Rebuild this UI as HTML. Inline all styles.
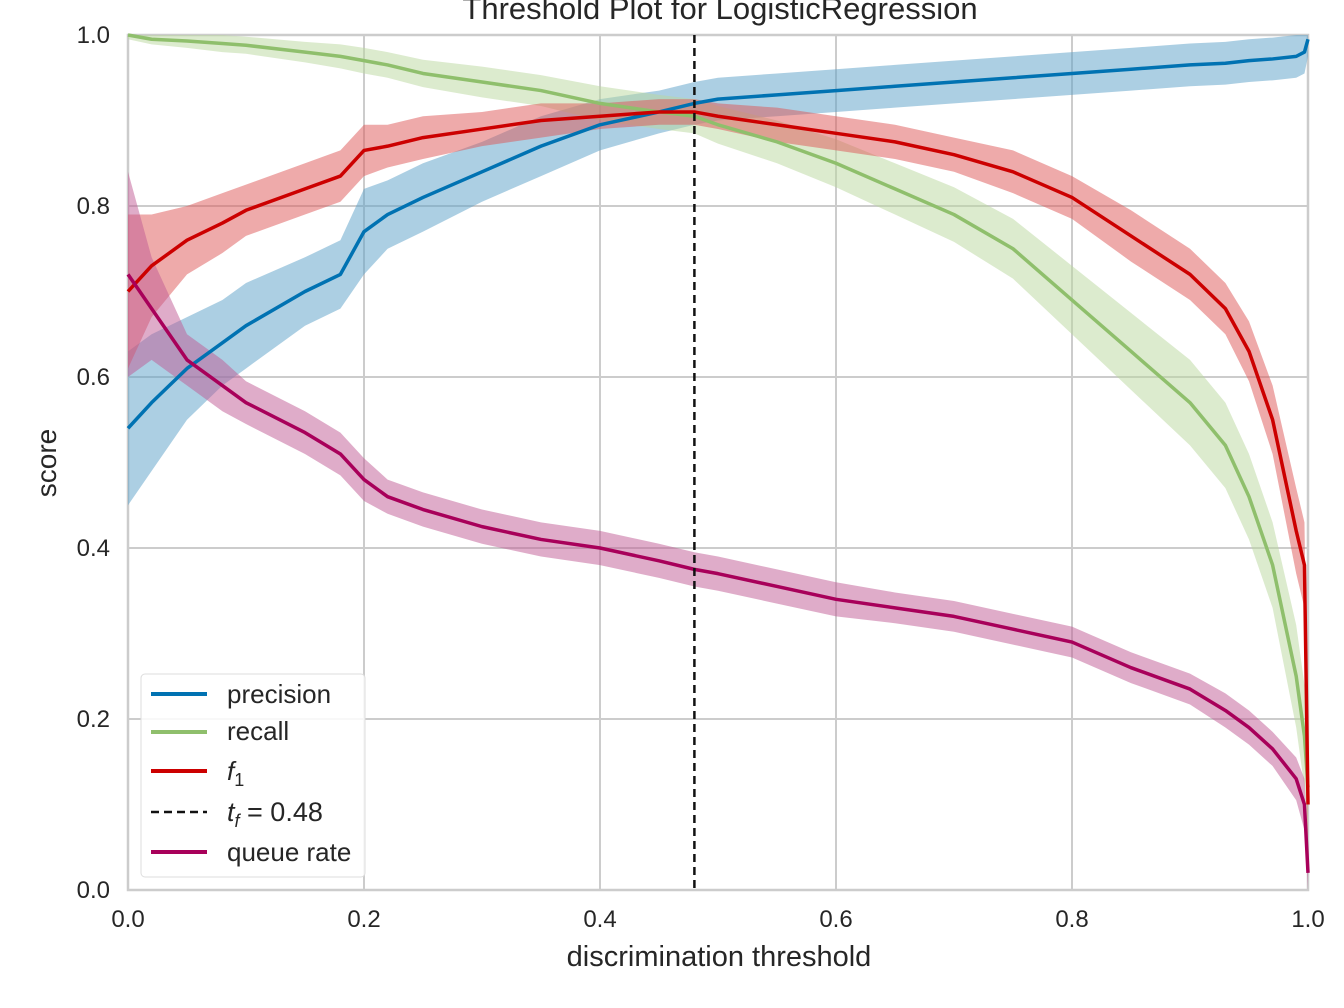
<!DOCTYPE html>
<html><head><meta charset="utf-8"><style>
html,body{margin:0;padding:0;background:#fff;}
svg{display:block;font-family:"Liberation Sans",sans-serif;}
</style></head><body>
<svg id="chart" width="1344" height="1008" viewBox="0 0 1344 1008">
<text x="720" y="19" font-size="31" text-anchor="middle" fill="#262626">Threshold Plot for LogisticRegression</text>
<g id="grid"></g>
<g id="bands"></g>
<g id="lines"></g>
<g id="axes"></g>
<text x="719" y="966" font-size="29" text-anchor="middle" fill="#262626">discrimination threshold</text>
<text transform="translate(56,463) rotate(-90)" font-size="28" text-anchor="middle" fill="#262626">score</text>
<g>
<rect x="141" y="674" width="224" height="203" rx="4" fill="#fff" fill-opacity="0.85" stroke="#ddd"/>
<line x1="151" y1="694" x2="207" y2="694" stroke="#0072B2" stroke-width="4"/>
<text x="227" y="703" font-size="26" fill="#262626">precision</text>
<line x1="151" y1="732" x2="207" y2="732" stroke="#8fbf6c" stroke-width="4"/>
<text x="227" y="740" font-size="26" fill="#262626">recall</text>
<line x1="151" y1="771" x2="207" y2="771" stroke="#cc0000" stroke-width="4"/>
<text x="227" y="780" font-size="26" font-style="italic" fill="#262626">f<tspan font-size="18" dy="6" font-style="normal">1</tspan></text>
<line x1="151" y1="812" x2="207" y2="812" stroke="#111" stroke-width="2.5" stroke-dasharray="8,5"/>
<text x="227" y="821" font-size="27" fill="#262626"><tspan font-style="italic">t</tspan><tspan font-size="18" dy="6" font-style="italic">f</tspan><tspan dy="-6"> = 0.48</tspan></text>
<line x1="151" y1="852" x2="207" y2="852" stroke="#a8005a" stroke-width="4"/>
<text x="227" y="861" font-size="26" fill="#262626">queue rate</text>
</g>
</svg>
<script>
const thresholds = [0,0.02,0.05,0.08,0.1,0.15,0.18,0.2,0.22,0.25,0.3,0.35,0.4,0.45,0.48,0.5,0.55,0.6,0.65,0.7,0.75,0.8,0.85,0.9,0.93,0.95,0.97,0.99,0.997,1.0];
const precision = [0.54,0.57,0.61,0.64,0.66,0.70,0.72,0.77,0.79,0.81,0.84,0.87,0.895,0.91,0.92,0.925,0.93,0.935,0.94,0.945,0.95,0.955,0.96,0.965,0.967,0.97,0.972,0.975,0.98,0.995];
const precisionBand = [0.09,0.08,0.06,0.05,0.05,0.04,0.04,0.05,0.04,0.04,0.035,0.035,0.03,0.025,0.025,0.025,0.025,0.025,0.025,0.025,0.025,0.025,0.025,0.025,0.025,0.025,0.025,0.025,0.025,0.02];
const recall = [1.0,0.995,0.993,0.99,0.988,0.98,0.975,0.97,0.965,0.955,0.945,0.935,0.92,0.91,0.905,0.895,0.875,0.85,0.82,0.79,0.75,0.69,0.63,0.57,0.52,0.46,0.38,0.25,0.18,0.12];
const recallBand = [0.005,0.006,0.008,0.01,0.01,0.012,0.014,0.015,0.015,0.016,0.018,0.018,0.02,0.02,0.02,0.022,0.025,0.028,0.03,0.032,0.035,0.04,0.045,0.05,0.05,0.05,0.05,0.06,0.06,0.06];
const f1 = [0.70,0.73,0.76,0.78,0.795,0.82,0.835,0.865,0.87,0.88,0.89,0.90,0.905,0.91,0.91,0.905,0.895,0.885,0.875,0.86,0.84,0.81,0.765,0.72,0.68,0.63,0.55,0.42,0.38,0.1];
const f1Band = [0.09,0.06,0.04,0.035,0.03,0.03,0.03,0.03,0.025,0.025,0.02,0.02,0.015,0.015,0.015,0.015,0.02,0.02,0.02,0.02,0.025,0.025,0.03,0.03,0.03,0.035,0.04,0.05,0.05,0.05];
const queueRate = [0.72,0.68,0.62,0.59,0.57,0.535,0.51,0.48,0.46,0.445,0.425,0.41,0.40,0.385,0.375,0.37,0.355,0.34,0.33,0.32,0.305,0.29,0.26,0.235,0.21,0.19,0.165,0.13,0.1,0.02];
const queueBand = [0.12,0.06,0.03,0.03,0.025,0.025,0.025,0.025,0.02,0.02,0.02,0.02,0.02,0.02,0.02,0.02,0.02,0.02,0.018,0.018,0.018,0.018,0.018,0.018,0.02,0.02,0.02,0.025,0.03,0.02];
const xTicks = [0,0.2,0.4,0.6,0.8,1.0];
const xTickLabels = ["0.0","0.2","0.4","0.6","0.8","1.0"];
const yTicks = [0,0.2,0.4,0.6,0.8,1.0];
const yTickLabels = ["0.0","0.2","0.4","0.6","0.8","1.0"];
const bestThreshold = [0.48];

const X0=128,X1=1308,Y0=890,Y1=35;
const xs = v => X0+(X1-X0)*v;
const ys = v => Y0-(Y0-Y1)*v;
const NS="http://www.w3.org/2000/svg";
function mk(tag,parent,attrs){const e=document.createElementNS(NS,tag);for(const k in attrs)e.setAttribute(k,attrs[k]);parent.appendChild(e);return e;}
const grid=document.getElementById('grid'),axes=document.getElementById('axes'),bands=document.getElementById('bands'),lines=document.getElementById('lines');
xTicks.forEach((t,i)=>{
  const l=mk('line',grid,{x1:xs(t),x2:xs(t),y1:Y1,y2:Y0,stroke:'#cccccc','stroke-width':2});
  
  
  const tx=mk('text',axes,{x:xs(t),y:927,'font-size':24,'text-anchor':'middle',fill:'#262626'});
  tx.textContent=xTickLabels[i];
  
  
});
yTicks.forEach((t,i)=>{
  const l=mk('line',grid,{x1:X0,x2:X1,y1:ys(t),y2:ys(t),stroke:'#cccccc','stroke-width':2});
  
  
  const tx=mk('text',axes,{x:110,y:ys(t)+8,'font-size':24,'text-anchor':'end',fill:'#262626'});
  tx.textContent=yTickLabels[i];
  
  
});
const fr=mk('rect',grid,{x:X0,y:Y1,width:X1-X0,height:Y0-Y1,fill:'none',stroke:'#cccccc','stroke-width':2.5});


const series=[
 {n:'precision',v:precision,b:precisionBand,c:'#0072B2',bc:'#5a9fc7'},
 {n:'recall',v:recall,b:recallBand,c:'#8fbf6c',bc:'#b9d79e'},
 {n:'f1',v:f1,b:f1Band,c:'#cc0000',bc:'#dd5555'},
 {n:'queue-rate',v:queueRate,b:queueBand,c:'#a8005a',bc:'#c05a93'}
];
series.forEach(s=>{
  let up=thresholds.map((t,i)=>xs(t)+','+ys(Math.min(1,s.v[i]+s.b[i])));
  let dn=thresholds.map((t,i)=>xs(t)+','+ys(Math.max(0,s.v[i]-s.b[i]))).reverse();
  const p=mk('polygon',bands,{points:up.concat(dn).join(' '),fill:s.bc,'fill-opacity':0.5});
  
  
});
series.forEach(s=>{
  const pl=mk('polyline',lines,{points:thresholds.map((t,i)=>xs(t)+','+ys(s.v[i])).join(' '),fill:'none',stroke:s.c,'stroke-width':3.5,'stroke-linejoin':'round'});
  
  
});
const th=mk('line',lines,{x1:xs(bestThreshold[0]),x2:xs(bestThreshold[0]),y1:Y1,y2:Y0,stroke:'#111','stroke-width':2.5,'stroke-dasharray':'8,5'});


</script>
</body></html>
